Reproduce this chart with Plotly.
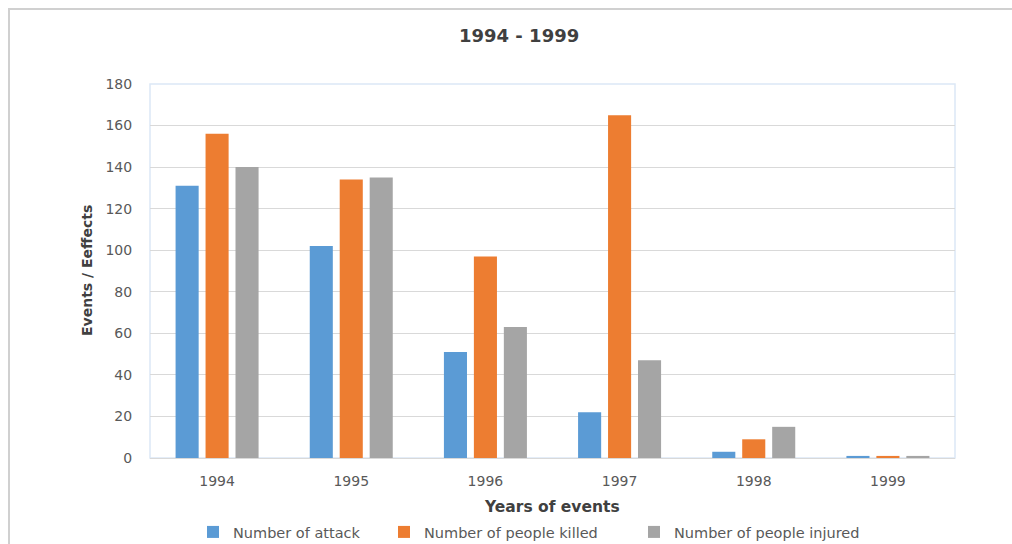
import plotly.graph_objects as go

# Yearly counts, 1994-1999
years = ["1994", "1995", "1996", "1997", "1998", "1999"]
attacks = [131, 102, 51, 22, 3, 1]
killed = [156, 134, 97, 165, 9, 1]
injured = [140, 135, 63, 47, 15, 1]

series_names = ["Number of attack", "Number of people killed", "Number of people injured"]
series_colors = ["#5B9BD5", "#ED7D31", "#A5A5A5"]

W, H = 1012, 544
L, R, T, B = 150, 57, 84, 86
pw, ph = W - L - R, H - T - B


def px_x(p):
    return (p - L) / pw


def px_y(p):
    return (H - B - p) / ph


FONT = "'DejaVu Sans', sans-serif"

# one legend box per series, each placed on its own
legend_ids = ["legend", "legend2", "legend3"]
legend_left = [193, 384, 634]

fig = go.Figure()
for name, vals, col, lid in zip(series_names, [attacks, killed, injured], series_colors, legend_ids):
    fig.add_trace(go.Bar(x=years, y=vals, name=name, legend=lid,
                         marker=dict(color=col, line=dict(width=0))))

legend_style = dict(
    orientation="h",
    xanchor="left",
    y=px_y(532),
    yanchor="middle",
    font=dict(size=14.5, color="#595959", family=FONT),
    itemwidth=30,
    bgcolor="rgba(0,0,0,0)",
)

fig.update_layout(
    width=W,
    height=H,
    margin=dict(l=L, r=R, t=T, b=B, autoexpand=False),
    paper_bgcolor="white",
    plot_bgcolor="white",
    barmode="group",
    bargap=0.33,
    bargroupgap=0.23,
    font=dict(family=FONT, size=14, color="#595959"),
    showlegend=True,
    legend=dict(x=px_x(legend_left[0]), **legend_style),
    legend2=dict(x=px_x(legend_left[1]), **legend_style),
    legend3=dict(x=px_x(legend_left[2]), **legend_style),
    annotations=[
        dict(
            text="<b>1994 - 1999</b>",
            xref="paper", yref="paper",
            x=px_x(519), y=px_y(36),
            xanchor="center", yanchor="middle",
            showarrow=False,
            font=dict(size=18, color="#404040", family=FONT),
        ),
        dict(
            text="<b>Years of events</b>",
            xref="paper", yref="paper",
            x=px_x(552), y=px_y(507),
            xanchor="center", yanchor="middle",
            showarrow=False,
            font=dict(size=15.5, color="#404040", family=FONT),
        ),
        dict(
            text="<b>Events / Eeffects</b>",
            xref="paper", yref="paper",
            x=px_x(87), y=px_y(271),
            xanchor="center", yanchor="middle",
            textangle=-90,
            showarrow=False,
            font=dict(size=14, color="#404040", family=FONT),
        ),
    ],
    shapes=[
        # outer chart frame
        dict(
            type="rect", xref="paper", yref="paper",
            x0=px_x(9), x1=px_x(1030), y0=px_y(560), y1=px_y(9),
            line=dict(color="#D0D0D0", width=2),
            fillcolor="rgba(0,0,0,0)", layer="below",
        ),
        # plot area border
        dict(
            type="rect", xref="paper", yref="paper",
            x0=0, x1=1, y0=0, y1=1,
            line=dict(color="#DCE8F6", width=1.5),
            fillcolor="rgba(0,0,0,0)", layer="below",
        ),
    ],
)

fig.update_xaxes(
    showgrid=False,
    showline=True,
    linecolor="#D9D9D9",
    linewidth=1,
    ticks="outside",
    ticklen=10,
    tickcolor="rgba(0,0,0,0)",
    tickfont=dict(size=14, color="#595959"),
)
fig.update_yaxes(
    range=[0, 180],
    dtick=20,
    showgrid=True,
    gridcolor="#D9D9D9",
    gridwidth=1,
    zeroline=False,
    showline=False,
    ticks="outside",
    ticklen=14,
    tickcolor="rgba(0,0,0,0)",
    tickfont=dict(size=14, color="#595959"),
)

fig.write_html("out.html")
